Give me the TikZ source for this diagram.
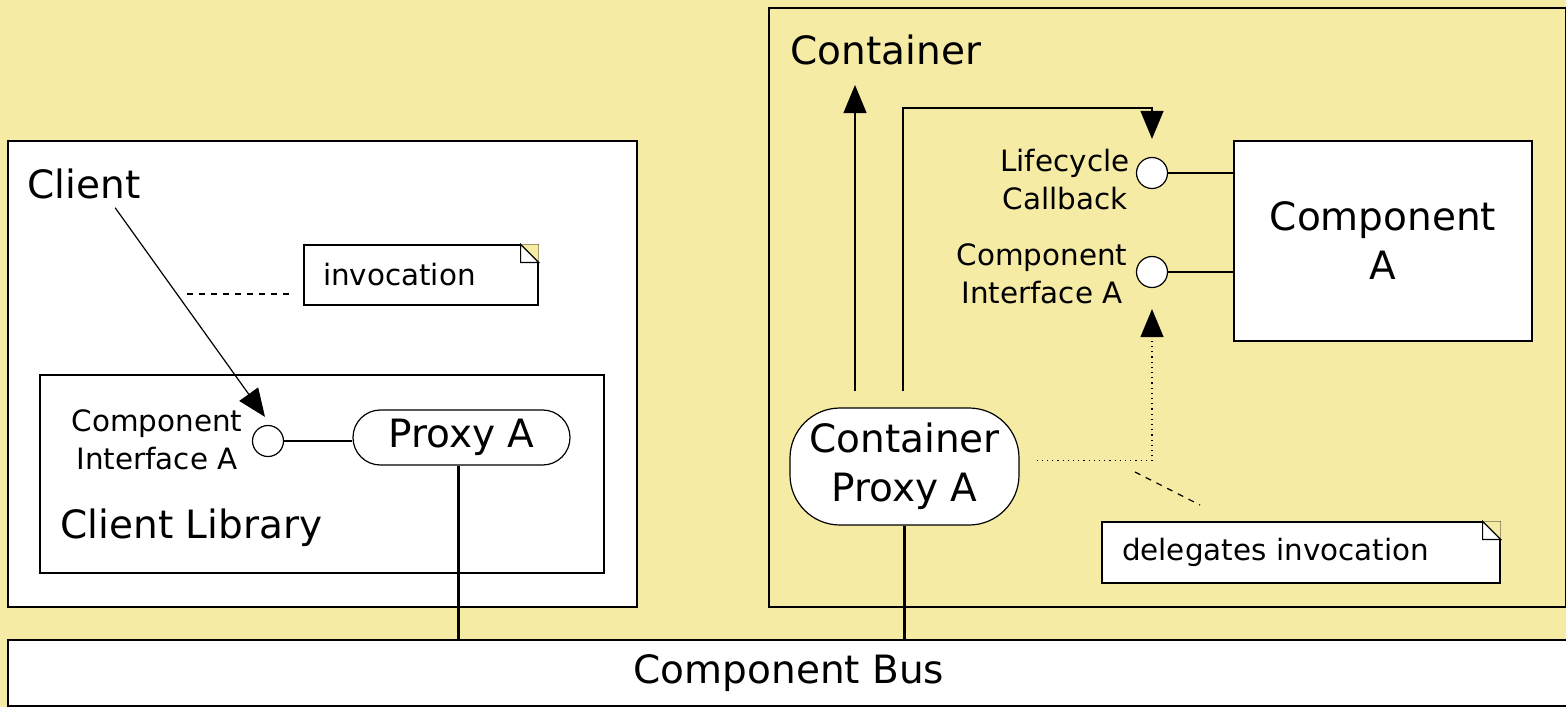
\documentclass[tikz,border=0pt]{standalone}
\usepackage{fontspec}
\setmainfont{DejaVu Sans}
\usetikzlibrary{arrows.meta,positioning,calc}
\definecolor{paper}{HTML}{F6EBA4}
\newcommand\bigtxt{\fontsize{19.5}{24.5}\selectfont}
\newcommand\smalltxt{\fontsize{14.7}{19}\selectfont}

\begin{document}
\begin{tikzpicture}[x=0.5pt,y=-0.5pt,line width=0.6pt,
  box/.style={draw,fill=white,inner sep=0pt},
  port/.style={draw,fill=white,circle,minimum size=15.5pt,inner sep=0pt},
  pill/.style={draw,fill=white,inner sep=0pt,align=center,font=\bigtxt},
  notebox/.style={draw,fill=white,inner ysep=0pt,align=left,font=\smalltxt},
  tip/.style={-{Triangle[length=14pt,width=11.5pt]}},
  bus link/.style={line width=1.4pt}]
\useasboundingbox (0,0) rectangle (1566,707);
\fill[paper] (0,0) rectangle (1566,707);
% client side
\node[box,minimum width=314.5pt,minimum height=233pt] (clientbox) at (322.5,374) {};
\node[box,minimum width=282pt,minimum height=99pt] (clientlib) at (322,474) {};
\node[font=\bigtxt,anchor=west,inner sep=0pt] (client) at (27,184) {Client};
\node[font=\bigtxt,anchor=west,inner sep=0pt] (liblabel) at (60,528) {Client Library};
\node[port] (libport) at (268,441) {};
\node[align=center,font=\smalltxt,inner sep=0pt] (libportlabel) at (157,440) {Component\\Interface A};
\node[pill,rounded corners=13.7pt,minimum width=108.5pt,minimum height=27.5pt] (proxy) at (461.5,437.5) {Proxy A};
\node[notebox,minimum height=30pt,text width=98pt,inner xsep=9.5pt] (invnote) at (421,275) {invocation};
\coordinate (invfoot) at (187,294);
\coordinate (invhead) at (290,294);
% container side
\node[draw,inner sep=0pt,minimum width=398.5pt,minimum height=299.5pt] (container) at (1167.5,307.5) {};
\node[font=\bigtxt,anchor=west,inner sep=0pt] (contlabel) at (790,50) {Container};
\node[box,font=\bigtxt,align=center,minimum width=149pt,minimum height=100pt] (compA) at (1383,241) {Component\\A};
\node[port] (lifeport) at (1152,173) {};
\node[port] (compport) at (1152,272) {};
\node[align=center,font=\smalltxt,inner sep=0pt,anchor=east] (lifelabel) at (1130,180) {Lifecycle\\Callback};
\node[align=center,font=\smalltxt,inner sep=0pt] (compportlabel) at (1042,274) {Component\\Interface A};
\node[pill,rounded corners=25pt,minimum width=114.5pt,minimum height=58.5pt] (cproxy) at (904.5,466.5) {Container\\Proxy A};
\node[notebox,minimum height=30.5pt,text width=179pt,inner xsep=10pt] (delnote) at (1301,552.5) {delegates invocation};
\coordinate (delfoot) at (1135,472);
\coordinate (delhead) at (1200,505);
\coordinate (uptop) at (855,85);
\coordinate (cbcorner) at (903,108);
% bus
\node[box,font=\bigtxt,minimum width=781pt,minimum height=33pt] (bus) at (789,673) {Component Bus};

% folded note corners
\foreach \n in {invnote,delnote}{
  \fill[paper] (\n.north east) -- ++(-18,0) -- ++(18,18) -- cycle;
  \draw ($(\n.north east)+(-18,0)$) -- ++(18,18) -- ++(-18,0) -- cycle;
}

% connectors
\draw[tip] ([xshift=-13pt,yshift=-4pt]client.south east) -- ([xshift=-1.5pt,yshift=4pt]libport.north);
\draw[dashed] (invfoot) -- (invhead);
\draw (libport) -- (libport -| proxy.west);
\draw (lifeport) -- (lifeport -| compA.west);
\draw (compport) -- (compport -| compA.west);
\draw[tip] ($(uptop |- cproxy.north)+(0,-16)$) -- (uptop);
\draw[tip] ($(cbcorner |- cproxy.north)+(0,-16)$) -- (cbcorner) -| ([yshift=9pt]lifeport.north);
\draw[tip,dotted] ([xshift=8.5pt,yshift=3pt]cproxy.east) -| ([yshift=-10.5pt]compport.south);
\draw[dashed] (delfoot) -- (delhead);
\draw[bus link] ([xshift=-1.7pt]proxy.south) -- ([xshift=-1.7pt]proxy.south |- bus.north);
\draw[bus link] (cproxy.south) -- (cproxy.south |- bus.north);
\end{tikzpicture}
\end{document}
